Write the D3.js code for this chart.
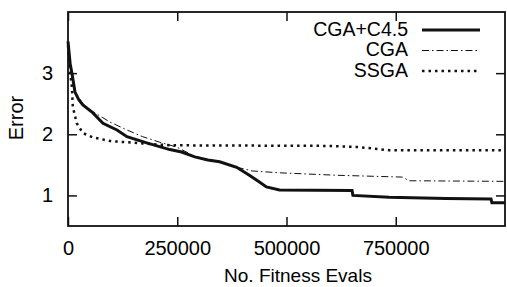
<!DOCTYPE html>
<html>
<head>
<meta charset="utf-8">
<script src="https://cdn.jsdelivr.net/npm/d3@7"></script>
<style>
  body { margin: 0; background: #fff; }
  svg text { font-family: "Liberation Sans", Arial, Helvetica, sans-serif; fill: #000; }
</style>
</head>
<body>
<div id="chart"></div>
<script>
// data (evals, error)
var seriesNames = ["CGA+C4.5", "CGA", "SSGA"];

var cgaC45 = [
  [0, 3.52], [5000, 3.15], [9000, 3.0], [16000, 2.69], [25000, 2.56], [34000, 2.48],
  [57000, 2.35], [80000, 2.18], [112000, 2.07], [135000, 1.96], [180000, 1.86],
  [233000, 1.75], [260000, 1.71], [290000, 1.63], [320000, 1.58], [347000, 1.55],
  [386000, 1.46], [415000, 1.33], [438000, 1.22], [454000, 1.14], [484000, 1.09],
  [650000, 1.08], [652000, 1.0], [735000, 0.97], [865000, 0.95], [968000, 0.94],
  [970000, 0.88], [1000000, 0.88]
];

var cga = [
  [0, 3.5], [9000, 3.0], [16000, 2.7], [34000, 2.5], [57000, 2.37], [96000, 2.2],
  [135000, 2.07], [171000, 1.96], [210000, 1.87], [249000, 1.79], [290000, 1.64],
  [347000, 1.55], [393000, 1.45], [422000, 1.4], [484000, 1.37], [614000, 1.33],
  [765000, 1.3], [781000, 1.24], [1000000, 1.23]
];

var ssga = [
  [0, 3.45], [5000, 3.0], [9000, 2.77], [11000, 2.45], [20000, 2.18], [34000, 2.02],
  [57000, 1.95], [96000, 1.89], [171000, 1.85], [233000, 1.82], [598000, 1.81],
  [667000, 1.79], [735000, 1.74], [1000000, 1.74]
];

var xTicks = [0, 250000, 500000, 750000];
var yTicks = [1, 2, 3];

var margin = { top: 12, right: 2, bottom: 61, left: 68 },
  width = 507 - margin.left - margin.right,
  height = 287 - margin.top - margin.bottom;

var svg = d3.select("#chart")
  .append("svg")
  .attr("width", 507)
  .attr("height", 287)
  .append("g")
  .attr("transform", "translate(" + margin.left + "," + margin.top + ")");

var x = d3.scaleLinear().domain([0, 1000000]).range([0, width]);
var y = d3.scaleLinear().domain([0.5, 4]).range([height, 0]);

// axes with inward ticks, mirrored on top and right
var xAxis = svg.append("g")
  .attr("transform", "translate(0," + height + ")")
  .call(d3.axisBottom(x).tickValues(xTicks).tickSize(-9).tickPadding(15).tickFormat(d3.format("d")));
xAxis.selectAll("text").attr("font-size", 20).attr("dy", "0.71em");

svg.append("g")
  .call(d3.axisTop(x).tickValues(xTicks).tickSize(-9).tickFormat(""));

var yAxis = svg.append("g")
  .call(d3.axisLeft(y).tickValues(yTicks).tickSize(-9).tickPadding(15).tickFormat(d3.format("d")));
yAxis.selectAll("text").attr("font-size", 20);

svg.append("g")
  .attr("transform", "translate(" + width + ",0)")
  .call(d3.axisRight(y).tickValues(yTicks).tickSize(-9).tickFormat(""));

svg.selectAll(".domain").remove();
svg.selectAll(".tick line").attr("stroke", "#111").attr("stroke-width", 1.5);

// frame
svg.append("rect")
  .attr("width", width)
  .attr("height", height)
  .attr("fill", "none")
  .attr("stroke", "#111")
  .attr("stroke-width", 1.8);

// axis labels
svg.append("text")
  .attr("x", 298 - margin.left)
  .attr("y", 282 - margin.top)
  .attr("text-anchor", "middle")
  .attr("font-size", 19)
  .text("No. Fitness Evals");

svg.append("text")
  .attr("transform", "translate(" + (23 - margin.left) + "," + (118 - margin.top) + ") rotate(-90)")
  .attr("text-anchor", "middle")
  .attr("font-size", 20)
  .text("Error");

var styles = [
  { data: cgaC45, width: 3, dash: null },
  { data: cga, width: 1, dash: "7,3,1.5,3" },
  { data: ssga, width: 2.5, dash: "2.5,4" }
];

var line = d3.line()
  .x(function (d) { return x(d[0]); })
  .y(function (d) { return y(d[1]); });

styles.forEach(function (s) {
  svg.append("path")
    .datum(s.data)
    .attr("fill", "none")
    .attr("stroke", "#111")
    .attr("stroke-width", s.width)
    .attr("stroke-dasharray", s.dash)
    .attr("d", line);
});

// legend
var legend = svg.append("g")
  .attr("transform", "translate(" + (408 - margin.left) + "," + (30 - margin.top) + ")");

seriesNames.forEach(function (name, i) {
  var s = styles[i];
  legend.append("text")
    .attr("x", 0)
    .attr("y", i * 20.5 + 5.5)
    .attr("text-anchor", "end")
    .attr("font-size", 19.5)
    .text(name);
  legend.append("line")
    .attr("x1", 14)
    .attr("x2", 72)
    .attr("y1", i * 20.5)
    .attr("y2", i * 20.5)
    .attr("stroke", "#111")
    .attr("stroke-width", s.width)
    .attr("stroke-dasharray", s.dash);
});
</script>
</body>
</html>
